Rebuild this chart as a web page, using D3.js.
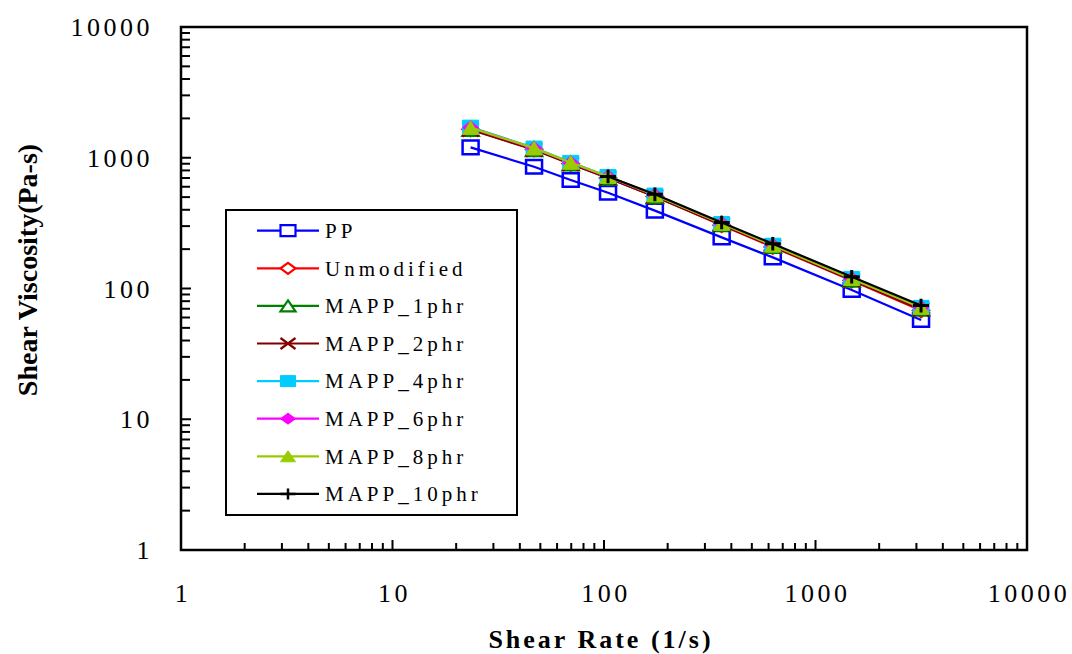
<!DOCTYPE html>
<html>
<head>
<meta charset="utf-8">
<script src="https://cdn.jsdelivr.net/npm/d3@7"></script>
<style>
  body { margin: 0; background: #fff; }
  svg { display: block; }
  text { font-family: "Liberation Serif", "Times New Roman", serif; }
</style>
</head>
<body>
<script>
// shear rate (1/s)
var shearRate = [23.4, 46.7, 69.6, 104.5, 174, 360, 628, 1483, 3155];

// shear viscosity (Pa-s) per sample
var pp          = [1200, 854, 676, 540, 394, 246, 173, 97.4, 57.4];
var unmodified  = [1650, 1160, 900, 700, 505, 305, 208, 115, 68];
var mapp1       = [1660, 1165, 905, 705, 508, 310, 212, 117, 70];
var mapp2       = [1640, 1150, 895, 700, 505, 308, 210, 116, 69];
var mapp4       = [1720, 1190, 925, 720, 520, 315, 215, 120, 72];
var mapp6       = [1700, 1180, 915, 715, 518, 314, 214, 119, 71.5];
var mapp8       = [1700, 1185, 920, 718, 518, 314, 214, 119, 71.5];
var mapp10      = [null, null, null, 720, 525, 320, 220, 123, 74];

var seriesNames = ['PP', 'Unmodified', 'MAPP_1phr', 'MAPP_2phr', 'MAPP_4phr', 'MAPP_6phr', 'MAPP_8phr', 'MAPP_10phr'];
var seriesValues = [pp, unmodified, mapp1, mapp2, mapp4, mapp6, mapp8, mapp10];
var seriesColors = ['#0000ff', '#ff0000', '#008000', '#800000', '#00ccff', '#ff00ff', '#99cc00', '#000000'];
var seriesMarkers = ['square', 'diamond', 'triangle', 'x', 'square', 'diamond', 'triangle', 'plus'];
var seriesFilled = [false, false, false, false, true, true, true, false];

var xTickLabels = [1, 10, 100, 1000, 10000];
var yTickLabels = [1, 10, 100, 1000, 10000];

var W = 1072, H = 654;
var pLeft = 181, pRight = 1027, pTop = 27, pBottom = 550;

var svg = d3.select('body').append('svg').attr('width', W).attr('height', H);

var x = d3.scaleLog().domain([1, 10000]).range([pLeft, pRight]);
var y = d3.scaleLog().domain([1, 10000]).range([pBottom, pTop]);

// marker path, w/h are half sizes
function markerPath(type, w, h) {
  if (type == 'square') return 'M' + (-w) + ',' + (-h) + 'H' + w + 'V' + h + 'H' + (-w) + 'Z';
  if (type == 'diamond') return 'M0,' + (-h) + 'L' + w + ',0L0,' + h + 'L' + (-w) + ',0Z';
  if (type == 'triangle') return 'M0,' + (-h) + 'L' + w + ',' + h + 'L' + (-w) + ',' + h + 'Z';
  if (type == 'x') return 'M' + (-w) + ',' + (-h) + 'L' + w + ',' + h + 'M' + w + ',' + (-h) + 'L' + (-w) + ',' + h;
  return 'M' + (-w) + ',0H' + w + 'M0,' + (-h) + 'V' + h;
}

function isMajor(d) { return Math.abs(Math.log10(d) - Math.round(Math.log10(d))) < 1e-9; }

// ticks (inside, left and bottom only)
svg.append('g').selectAll('line')
  .data(x.ticks().filter(function(d){ return d > 1 && d < 10000; }))
  .enter().append('line')
  .attr('x1', function(d){ return x(d); })
  .attr('x2', function(d){ return x(d); })
  .attr('y1', pBottom)
  .attr('y2', function(d){ return pBottom - (isMajor(d) ? 10 : 7); })
  .attr('stroke', '#000').attr('stroke-width', 2);

svg.append('g').selectAll('line')
  .data(y.ticks().filter(function(d){ return d > 1 && d < 10000; }))
  .enter().append('line')
  .attr('y1', function(d){ return y(d); })
  .attr('y2', function(d){ return y(d); })
  .attr('x1', pLeft)
  .attr('x2', function(d){ return pLeft + (isMajor(d) ? 10 : 9); })
  .attr('stroke', '#000').attr('stroke-width', 2);

// frame
svg.append('rect')
  .attr('x', pLeft).attr('y', pTop)
  .attr('width', pRight - pLeft).attr('height', pBottom - pTop)
  .attr('fill', 'none').attr('stroke', '#000').attr('stroke-width', 2.5);

// tick labels
svg.append('g').selectAll('text')
  .data(xTickLabels)
  .enter().append('text')
  .attr('x', function(d){ return x(d) + 2; })
  .attr('y', 602)
  .attr('text-anchor', 'middle')
  .style('font-size', '26px')
  .style('letter-spacing', '3.5px')
  .text(function(d){ return d; });

svg.append('g').selectAll('text')
  .data(yTickLabels)
  .enter().append('text')
  .attr('x', 153)
  .attr('y', function(d){ return y(d); })
  .attr('dy', '0.35em')
  .attr('text-anchor', 'end')
  .style('font-size', '26px')
  .style('letter-spacing', '3.5px')
  .text(function(d){ return d; });

// axis titles
svg.append('text')
  .attr('x', 601).attr('y', 648)
  .attr('text-anchor', 'middle')
  .style('font-size', '26px').style('font-weight', 'bold')
  .style('letter-spacing', '3px')
  .text('Shear Rate (1/s)');

svg.append('text')
  .attr('transform', 'translate(37,270) rotate(-90)')
  .attr('text-anchor', 'middle')
  .style('font-size', '28px').style('font-weight', 'bold')
  .text('Shear Viscosity(Pa-s)');

// series
var line = d3.line()
  .defined(function(d){ return d[1] != null; })
  .x(function(d){ return x(d[0]); })
  .y(function(d){ return y(d[1]); });

seriesValues.forEach(function(vals, i) {
  var pts = shearRate.map(function(r, j){ return [r, vals[j]]; });
  var g = svg.append('g');
  g.append('path')
    .attr('d', line(pts))
    .attr('fill', 'none')
    .attr('stroke', seriesColors[i])
    .attr('stroke-width', 2.2);
  g.selectAll('path.m')
    .data(pts.filter(function(d){ return d[1] != null; }))
    .enter().append('path')
    .attr('class', 'm')
    .attr('transform', function(d){ return 'translate(' + x(d[0]) + ',' + y(d[1]) + ')'; })
    .attr('d', markerPath(seriesMarkers[i], 8, 6.8))
    .attr('fill', seriesFilled[i] ? seriesColors[i] : 'none')
    .attr('stroke', seriesColors[i])
    .attr('stroke-width', seriesMarkers[i] == 'plus' ? 3 : (seriesFilled[i] ? 1 : 2.5));
});

// legend
var lg = svg.append('g');
lg.append('rect')
  .attr('x', 226).attr('y', 210).attr('width', 291).attr('height', 305)
  .attr('fill', '#fff').attr('stroke', '#000').attr('stroke-width', 2);

var rows = lg.selectAll('g.row')
  .data(seriesNames)
  .enter().append('g')
  .attr('class', 'row')
  .attr('transform', function(d, i){ return 'translate(0,' + (230.7 + i * 37.6) + ')'; });

rows.append('line')
  .attr('x1', 257).attr('x2', 319).attr('y1', 0).attr('y2', 0)
  .attr('stroke', function(d, i){ return seriesColors[i]; })
  .attr('stroke-width', 2.2);

rows.append('path')
  .attr('transform', 'translate(288,0)')
  .attr('d', function(d, i){ return markerPath(seriesMarkers[i], 7.5, 5.5); })
  .attr('fill', function(d, i){ return seriesFilled[i] ? seriesColors[i] : '#fff'; })
  .attr('stroke', function(d, i){ return seriesColors[i]; })
  .attr('stroke-width', function(d, i){ return seriesMarkers[i] == 'plus' ? 2.5 : (seriesFilled[i] ? 1 : 2.2); });

rows.append('text')
  .attr('x', 325).attr('y', 0).attr('dy', '0.35em')
  .style('font-size', '21px')
  .style('letter-spacing', '4px')
  .text(function(d){ return d; });
</script>
</body>
</html>
